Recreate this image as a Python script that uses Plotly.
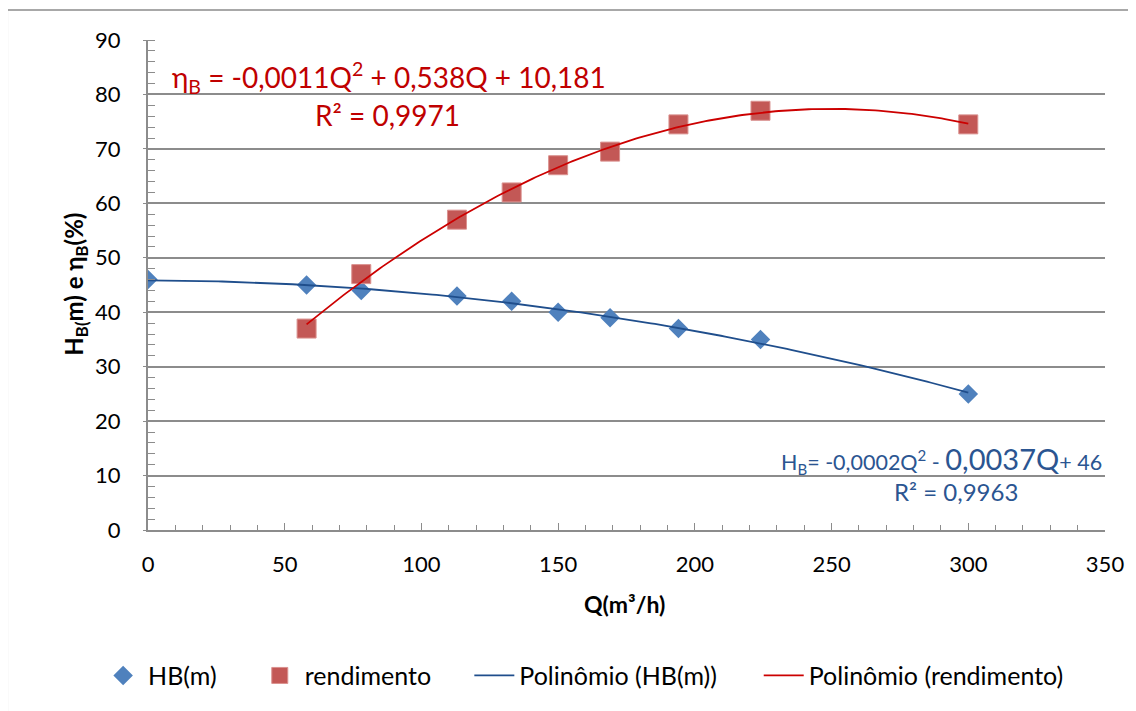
import numpy as np
import plotly.graph_objects as go

# Data
q_hb = [0, 58, 78, 113, 133, 150, 169, 194, 224, 300]
hb = [46, 45, 44, 43, 42, 40, 39, 37, 35, 25]
q_rend = [58, 78, 113, 133, 150, 169, 194, 224, 300]
rend = [37, 47, 57, 62, 67, 69.5, 74.5, 77, 74.5]

x_ticks = [0, 50, 100, 150, 200, 250, 300, 350]
y_ticks = [0, 10, 20, 30, 40, 50, 60, 70, 80, 90]

FONT = "Lato"
BLUE_M = "#4F81BD"
RED_M = "#C0504D"
BLUE_L = "#1F4E8C"
RED_L = "#CC0000"

# plot area in screen pixels (page has an 8px body margin)
PX0, PX1, PY0, PY1 = 148, 1107, 40, 531
PW, PH = PX1 - PX0, PY1 - PY0


def px(x):
    return (x - PX0) / PW


def py(y):
    return (PY1 - y) / PH


# polynomial trendlines fitted from the data
c_hb = np.polyfit(q_hb, hb, 2)
c_r = np.polyfit(q_rend, rend, 2)
xs_hb = np.linspace(min(q_hb), max(q_hb), 200)
xs_r = np.linspace(min(q_rend), max(q_rend), 200)

fig = go.Figure()
fig.add_trace(go.Scatter(x=q_hb, y=hb, mode="markers", name="HB(m)", legend="legend",
                         marker=dict(symbol="diamond", size=15, color=BLUE_M,
                                     line=dict(width=0))))
fig.add_trace(go.Scatter(x=q_rend, y=rend, mode="markers", name="rendimento", legend="legend2",
                         marker=dict(symbol="square", size=19, color=RED_M, opacity=0.95,
                                     line=dict(width=1, color="#D98C8A"))))
fig.add_trace(go.Scatter(x=xs_hb, y=np.polyval(c_hb, xs_hb), mode="lines", legend="legend3",
                         name="Polinômio (HB(m))", line=dict(color=BLUE_L, width=1.8)))
fig.add_trace(go.Scatter(x=xs_r, y=np.polyval(c_r, xs_r), mode="lines", legend="legend4",
                         name="Polinômio (rendimento)", line=dict(color=RED_L, width=1.8)))

annotations = [
    dict(x=px(170), y=py(78), xref="paper", yref="paper", xanchor="left", yanchor="middle",
         text="η<sub>B</sub> = -0,0011Q<sup>2</sup> + 0,538Q + 10,181",
         font=dict(family=FONT, size=28, color="#C00000"), showarrow=False),
    dict(x=px(388), y=py(115), xref="paper", yref="paper", xanchor="center", yanchor="middle",
         text="R² = 0,9971", font=dict(family=FONT, size=28, color="#C00000"),
         showarrow=False),
    dict(x=px(1106), y=py(460), xref="paper", yref="paper", xanchor="right", yanchor="middle",
         text="H<sub>B</sub>= -0,0002Q<sup>2</sup> - <span style='font-size:29px'>0,0037Q</span>+ 46",
         font=dict(family=FONT, size=21.5, color="#2B5591"), showarrow=False),
    dict(x=px(958), y=py(492), xref="paper", yref="paper", xanchor="center", yanchor="middle",
         text="R² = 0,9963", font=dict(family=FONT, size=24, color="#2B5591"),
         showarrow=False),
    dict(x=px(625), y=py(605), xref="paper", yref="paper",
         xanchor="center", yanchor="middle", text="<b>Q(m³/h)</b>",
         font=dict(family=FONT, size=23, color="#000"), showarrow=False),
    dict(x=px(75), y=py(285), xref="paper", yref="paper",
         xanchor="center", yanchor="middle", textangle=-90,
         text="<b>H<sub>B(</sub>m) e η<sub>B</sub>(%)</b>",
         font=dict(family=FONT, size=24, color="#000"), showarrow=False),
]

LEG_Y = py(677)
leg_common = dict(orientation="h", yanchor="middle", y=LEG_Y, xanchor="left",
                  font=dict(family=FONT, size=25, color="#000"), itemwidth=40,
                  bgcolor="rgba(0,0,0,0)", borderwidth=0)

fig.update_layout(
    width=1128, height=703,
    margin=dict(l=PX0 - 8, r=1136 - PX1, t=PY0 - 8, b=711 - PY1),
    paper_bgcolor="white", plot_bgcolor="white",
    font=dict(family=FONT, size=20, color="#000"),
    annotations=annotations,
    showlegend=True,
    legend=dict(x=px(148 - 50), **leg_common),
    legend2=dict(x=px(305 - 50), **leg_common),
    legend3=dict(x=px(520 - 50), **leg_common),
    legend4=dict(x=px(810 - 50), **leg_common),
    shapes=[dict(type="rect", xref="paper", yref="paper",
                 x0=px(7), x1=px(1150), y0=py(730), y1=py(10),
                 line=dict(color="#8C8C8C", width=1.5), fillcolor="rgba(0,0,0,0)",
                 layer="below")],
)

fig.update_xaxes(range=[0, 350], tickvals=x_ticks, ticktext=[str(v) for v in x_ticks],
                 showgrid=False, zeroline=False, showline=True, linecolor="#8C8C8C",
                 linewidth=2, ticks="inside", ticklen=7, tickcolor="#8C8C8C",
                 ticklabelstandoff=14,
                 minor=dict(dtick=10, ticks="inside", ticklen=5, tickcolor="#8C8C8C",
                            showgrid=False),
                 tickfont=dict(family=FONT, size=22, color="#000"))
fig.update_yaxes(range=[0, 90], tickvals=y_ticks, ticktext=[str(v) for v in y_ticks],
                 showgrid=True, gridcolor="#8C8C8C", gridwidth=1.5, zeroline=False,
                 showline=True, linecolor="#8C8C8C", linewidth=2,
                 ticks="outside", ticklen=3, tickcolor="#8C8C8C",
                 ticklabelstandoff=18,
                 minor=dict(dtick=2, ticks="inside", ticklen=7, tickcolor="#8C8C8C",
                            showgrid=False),
                 tickfont=dict(family=FONT, size=22, color="#000"))

fig.write_html("out.html")
